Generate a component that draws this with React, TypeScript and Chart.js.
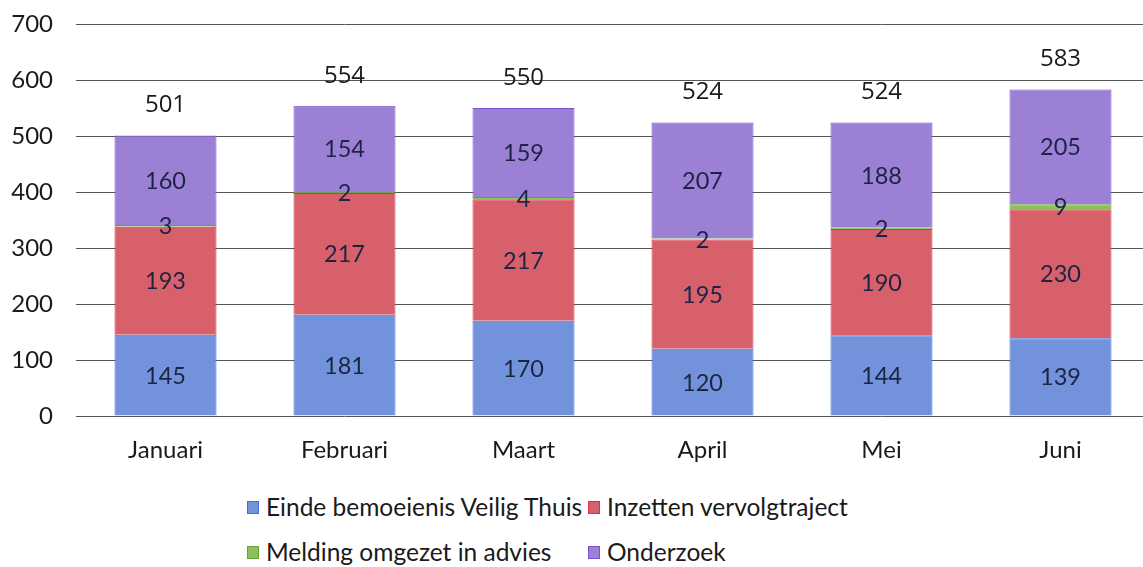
import React, { useEffect, useRef } from "react";
import { Chart, registerables } from "chart.js";

Chart.register(...registerables);

const categories = ["Januari", "Februari", "Maart", "April", "Mei", "Juni"];
const seriesNames = [
  "Einde bemoeienis Veilig Thuis",
  "Inzetten vervolgtraject",
  "Melding omgezet in advies",
  "Onderzoek",
];
const einde = [145, 181, 170, 120, 144, 139];
const inzetten = [193, 217, 217, 195, 190, 230];
const melding = [3, 2, 4, 2, 2, 9];
const onderzoek = [160, 154, 159, 207, 188, 205];
const totals = [501, 554, 550, 524, 524, 583];
const yTicks = [0, 100, 200, 300, 400, 500, 600, 700];

const fills = ["#7293dc", "#d8606b", "#8dc05a", "#9c80d6"];
const borders = ["#3f6fe0", "#e0303f", "#6aa03a", "#7a50d0"];
const FONT = "Lato, 'Open Sans', sans-serif";

const labelPlugin = {
  id: "segLabels",
  afterDatasetsDraw(chart: any) {
    const ctx = chart.ctx;
    ctx.save();
    ctx.textAlign = "center";
    ctx.textBaseline = "middle";
    ctx.font = `23.5px ${FONT}`;
    ctx.fillStyle = "#1c2444";
    chart.data.datasets.forEach((ds: any, i: number) => {
      const meta = chart.getDatasetMeta(i);
      meta.data.forEach((bar: any, j: number) => {
        const p = bar.getProps(["x", "y", "base"], true);
        ctx.fillText(String(ds.data[j]), p.x, (p.y + p.base) / 2 + 1);
      });
    });
    const yScale = chart.scales.y;
    const xScale = chart.scales.x;
    ctx.fillStyle = "#1a1a1a";
    ctx.font = "24px 'Open Sans', sans-serif";
    totals.forEach((t, i) => {
      ctx.fillText(String(t), xScale.getPixelForValue(i), yScale.getPixelForValue(t) - 30);
    });
    ctx.restore();
  },
};

export default function App() {
  const ref = useRef<HTMLCanvasElement>(null);
  useEffect(() => {
    document.body.style.margin = "0";
    document.body.style.overflow = "hidden";
    const data = [einde, inzetten, melding, onderzoek];
    const chart = new Chart(ref.current!, {
      type: "bar",
      data: {
        labels: categories,
        datasets: data.map((d, i) => ({
          label: seriesNames[i],
          data: d,
          backgroundColor: fills[i],
          borderColor: borders[i],
          borderWidth: 1,
          barPercentage: 0.57,
          categoryPercentage: 1,
        })),
      },
      options: {
        responsive: false,
        animation: false,
        layout: { padding: { top: 24, right: 2, left: 11, bottom: 0 } },
        plugins: { legend: { display: false }, tooltip: { enabled: false } },
        scales: {
          x: {
            stacked: true,
            grid: { display: false, drawTicks: false },
            border: { display: false },
            ticks: { color: "#1a1a1a", font: { size: 24, family: FONT }, padding: 20 },
            afterFit: (s: any) => {
              s.height = 50;
            },
          },
          y: {
            stacked: true,
            min: 0,
            max: 700,
            afterBuildTicks: (axis: any) => {
              axis.ticks = yTicks.map((v) => ({ value: v }));
            },
            grid: { color: "#555555", lineWidth: 1, drawTicks: false },
            border: { display: false },
            ticks: { color: "#1a1a1a", font: { size: 24, family: FONT }, padding: 23 },
            afterFit: (s: any) => {
              s.width = 65;
              s.paddingTop = 0;
              s.paddingBottom = 0;
            },
          },
        },
      },
      plugins: [labelPlugin],
    });
    return () => chart.destroy();
  }, []);

  const legendItem = (i: number) => (
    <div style={{ display: "flex", alignItems: "center", whiteSpace: "nowrap" }}>
      <span
        style={{
          display: "inline-block",
          width: 10,
          height: 11,
          background: fills[i],
          border: `1px solid ${borders[i]}`,
          marginRight: 7,
        }}
      />
      <span>{seriesNames[i]}</span>
    </div>
  );

  return (
    <div style={{ position: "relative", width: 1143, height: 567, overflow: "hidden", background: "#fff" }}>
      <canvas ref={ref} width={1152} height={466} style={{ display: "block" }} />
      <div
        style={{
          position: "absolute",
          left: 247,
          top: 492,
          display: "grid",
          gridTemplateColumns: "341px auto",
          rowGap: 15,
          fontFamily: FONT,
          fontSize: 24.5,
          color: "#1a1a1a",
          lineHeight: "30px",
        }}
      >
        {legendItem(0)}
        {legendItem(1)}
        {legendItem(2)}
        {legendItem(3)}
      </div>
    </div>
  );
}
